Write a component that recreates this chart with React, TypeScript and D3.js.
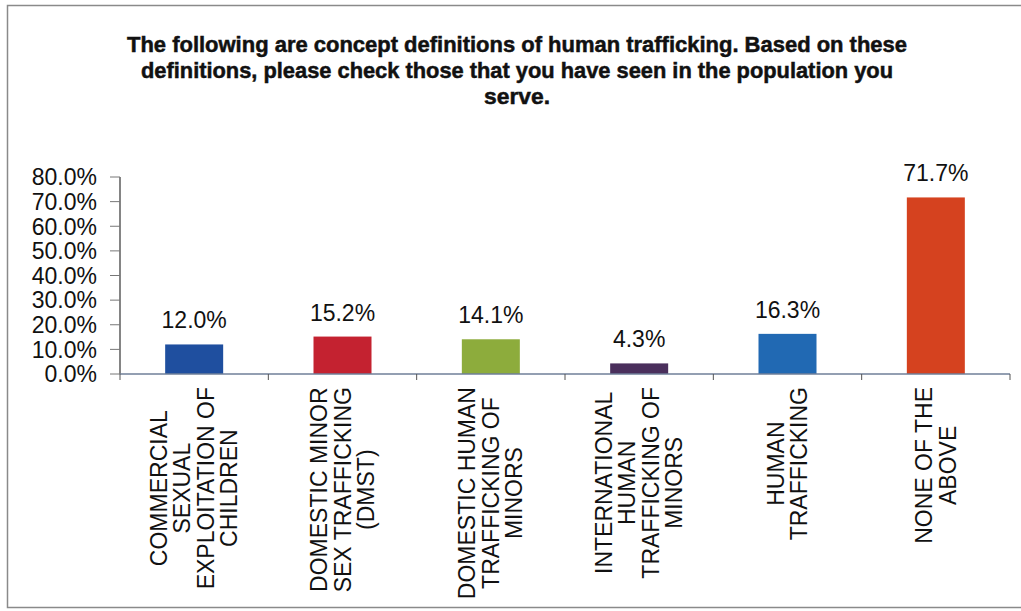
import React, { useEffect, useRef } from "react";
import * as d3 from "d3";

const categories: string[][] = [
  ["COMMERCIAL", "SEXUAL", "EXPLOITATION OF", "CHILDREN"],
  ["DOMESTIC MINOR", "SEX TRAFFICKING", "(DMST)"],
  ["DOMESTIC HUMAN", "TRAFFICKING OF", "MINORS"],
  ["INTERNATIONAL", "HUMAN", "TRAFFICKING OF", "MINORS"],
  ["HUMAN", "TRAFFICKING"],
  ["NONE OF THE", "ABOVE"],
];
const values: number[] = [0.12, 0.152, 0.141, 0.043, 0.163, 0.717];
const barColors: string[] = ["#1f4f9f", "#c42230", "#8dac3c", "#4a2f5c", "#2169b3", "#d5421f"];
const yTicks: number[] = [0, 0.1, 0.2, 0.3, 0.4, 0.5, 0.6, 0.7, 0.8];
const titleLines: string[] = [
  "The following are concept definitions of human trafficking.  Based on these",
  "definitions, please check those that you have seen in the population you",
  "serve.",
];
const titleWidths: number[] = [780, 752, 66];

const W = 1021;
const H = 611;
const FONT = "'Liberation Sans', Arial, Helvetica, sans-serif";

export default function App() {
  const ref = useRef<SVGSVGElement | null>(null);

  useEffect(() => {
    const svg = d3.select(ref.current);
    svg.selectAll("*").remove();

    // frame
    svg.append("rect")
      .attr("x", 7.5).attr("y", 5.5).attr("width", 1020).attr("height", 602)
      .attr("fill", "#fff").attr("stroke", "#8a8a8a").attr("stroke-width", 1.5);

    // title
    titleLines.forEach((t, i) => {
      svg.append("text")
        .attr("x", 517).attr("y", 52 + i * 26)
        .attr("text-anchor", "middle")
        .attr("font-family", FONT).attr("font-weight", "bold")
        .attr("font-size", 22)
        .attr("textLength", titleWidths[i])
        .attr("lengthAdjust", "spacingAndGlyphs")
        .attr("fill", "#111")
        .attr("stroke", "#111").attr("stroke-width", 0.5)
        .text(t);
    });

    const x = d3.scaleBand<number>().domain(d3.range(values.length)).range([120, 1010]).paddingInner(0).paddingOuter(0);
    const y = d3.scaleLinear().domain([0, 0.8]).range([374, 177]);
    const barW = 58;
    const fs = 23;

    // y axis
    svg.append("line").attr("x1", 120).attr("x2", 120).attr("y1", y(0.8)).attr("y2", y(0))
      .attr("stroke", "#333").attr("stroke-width", 1.2);
    yTicks.forEach((t) => {
      svg.append("line").attr("x1", 110).attr("x2", 120).attr("y1", y(t)).attr("y2", y(t))
        .attr("stroke", "#777").attr("stroke-width", 1);
      svg.append("text")
        .attr("x", 97).attr("y", y(t))
        .attr("dy", "0.36em")
        .attr("text-anchor", "end")
        .attr("font-family", FONT).attr("font-size", fs)
        .attr("fill", "#111")
        .text(d3.format(".1%")(t));
    });

    // bars
    values.forEach((v, i) => {
      const cx = (x(i) as number) + x.bandwidth() / 2;
      svg.append("rect")
        .attr("x", cx - barW / 2).attr("y", y(v))
        .attr("width", barW).attr("height", y(0) - y(v))
        .attr("fill", barColors[i]);
      svg.append("text")
        .attr("x", cx).attr("y", y(v) - 16)
        .attr("text-anchor", "middle")
        .attr("font-family", FONT).attr("font-size", fs)
        .attr("fill", "#111")
        .text(d3.format(".1%")(v));
    });

    // x axis
    svg.append("line").attr("x1", 120).attr("x2", 1010).attr("y1", y(0)).attr("y2", y(0))
      .attr("stroke", "#6f7f99").attr("stroke-width", 1.3);
    d3.range(values.length + 1).forEach((i) => {
      const tx = 120 + i * x.bandwidth();
      svg.append("line").attr("x1", tx).attr("x2", tx).attr("y1", y(0)).attr("y2", y(0) + 6)
        .attr("stroke", "#555").attr("stroke-width", 1);
    });

    // category labels
    const lineGap = 23.5;
    categories.forEach((lines, i) => {
      const cx = (x(i) as number) + x.bandwidth() / 2;
      const g = svg.append("g");
      const texts = lines.map((l) =>
        g.append("text")
          .attr("text-anchor", "middle")
          .attr("dominant-baseline", "central")
          .attr("font-family", FONT).attr("font-size", fs)
          .attr("fill", "#111")
          .text(l)
      );
      const maxW = d3.max(texts, (t) => (t.node() as SVGTextElement).getComputedTextLength()) || 0;
      const cy = 387 + maxW / 2;
      texts.forEach((t, j) => {
        const lx = cx + (j - (lines.length - 1) / 2) * lineGap;
        t.attr("transform", `translate(${lx},${cy}) rotate(-90)`);
      });
    });
  }, []);

  return (
    <svg ref={ref} width={W} height={H} style={{ position: "absolute", left: 0, top: 0, display: "block" }} />
  );
}
